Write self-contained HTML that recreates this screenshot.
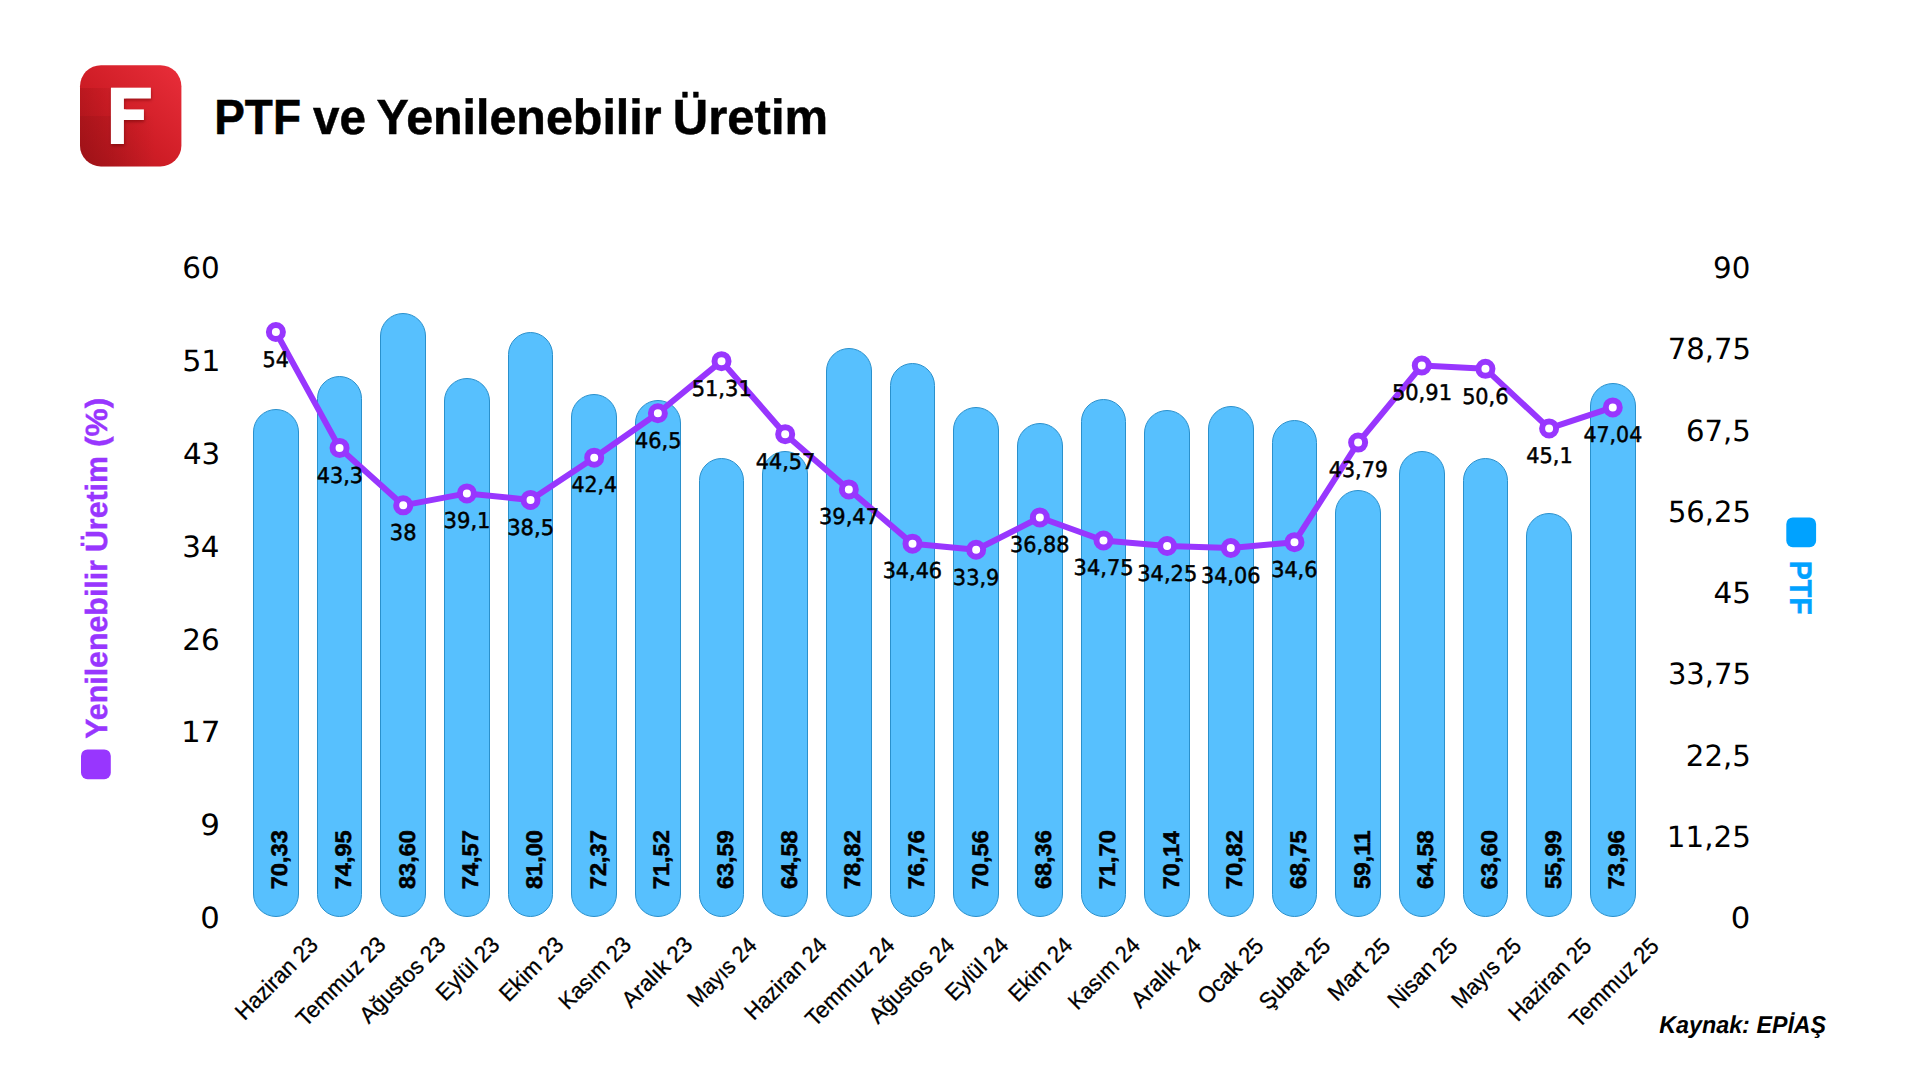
<!DOCTYPE html>
<html lang="tr"><head><meta charset="utf-8"><title>PTF ve Yenilenebilir Üretim</title>
<style>html,body{margin:0;padding:0;background:#fff;}body{width:1920px;height:1080px;overflow:hidden;font-family:"Liberation Sans",sans-serif;}svg{display:block;text-rendering:geometricPrecision;}text{white-space:pre;}</style>
</head><body>
<svg width="1920" height="1080" viewBox="0 0 1920 1080">
<defs>
<linearGradient id="lg" x1="0" y1="1" x2="1" y2="0"><stop offset="0" stop-color="#b0161d"/><stop offset="0.45" stop-color="#cf1d26"/><stop offset="1" stop-color="#e92e3a"/></linearGradient>
<linearGradient id="sa" x1="0" y1="0" x2="1" y2="0"><stop offset="0" stop-color="#600" stop-opacity="0.16"/><stop offset="1" stop-color="#600" stop-opacity="0.06"/></linearGradient>
<linearGradient id="sb" x1="0" y1="0" x2="1" y2="0"><stop offset="0" stop-color="#500" stop-opacity="0.22"/><stop offset="0.45" stop-color="#500" stop-opacity="0.14"/><stop offset="1" stop-color="#500" stop-opacity="0"/></linearGradient>
<filter id="fs" x="-20%" y="-20%" width="150%" height="150%"><feDropShadow dx="0.5" dy="2" stdDeviation="1.6" flood-color="#5a0005" flood-opacity="0.45"/></filter>
</defs>
<rect width="1920" height="1080" fill="#fff"/>
<rect x="80" y="65.2" width="101.4" height="101.2" rx="21" ry="21" fill="url(#lg)"/>
<clipPath id="lc"><rect x="80" y="65.2" width="101.4" height="101.2" rx="21" ry="21"/></clipPath>
<g clip-path="url(#lc)"><rect x="80" y="88" width="34" height="28" fill="url(#sa)"/><rect x="80" y="116" width="75" height="52" fill="url(#sb)"/></g>
<clipPath id="fc"><path d="M100 80H160V98.55H123.9V109.35H143.9V119.90H123.9V150H100Z"/></clipPath>
<g filter="url(#fs)"><g clip-path="url(#fc)"><text transform="translate(103.72,144.20) scale(1.0177,1)" font-family='"DejaVu Sans", "Liberation Sans", sans-serif' font-size="77.26" font-weight="bold" fill="#fff">F</text></g></g>
<g font-family='"Liberation Sans", sans-serif' font-size="49.28" font-weight="bold" fill="#000" stroke="#000" stroke-width="0.5">
<text transform="translate(214.21,133.75) scale(0.9331,1)">PTF </text>
<text transform="translate(313.06,133.75) scale(0.9654,1)">ve </text>
<text transform="translate(376.53,133.75) scale(0.9820,1)">Yenilenebilir </text>
<text transform="translate(672.86,133.75) scale(0.9947,1)">Üretim</text>
</g>
<g fill="#57c0fe" stroke="#2a90cc" stroke-width="1">
<rect x="253.5" y="409.5" width="45" height="507.0" rx="22.5" ry="22.5"/>
<rect x="317.5" y="376.5" width="44" height="540.0" rx="22.0" ry="22.0"/>
<rect x="380.5" y="313.5" width="45" height="603.0" rx="22.5" ry="22.5"/>
<rect x="444.5" y="378.5" width="45" height="538.0" rx="22.5" ry="22.5"/>
<rect x="508.5" y="332.5" width="44" height="584.0" rx="22.0" ry="22.0"/>
<rect x="571.5" y="394.5" width="45" height="522.0" rx="22.5" ry="22.5"/>
<rect x="635.5" y="400.5" width="45" height="516.0" rx="22.5" ry="22.5"/>
<rect x="699.5" y="458.5" width="44" height="458.0" rx="22.0" ry="22.0"/>
<rect x="762.5" y="451.5" width="45" height="465.0" rx="22.5" ry="22.5"/>
<rect x="826.5" y="348.5" width="45" height="568.0" rx="22.5" ry="22.5"/>
<rect x="890.5" y="363.5" width="44" height="553.0" rx="22.0" ry="22.0"/>
<rect x="953.5" y="407.5" width="45" height="509.0" rx="22.5" ry="22.5"/>
<rect x="1017.5" y="423.5" width="45" height="493.0" rx="22.5" ry="22.5"/>
<rect x="1081.5" y="399.5" width="44" height="517.0" rx="22.0" ry="22.0"/>
<rect x="1144.5" y="410.5" width="45" height="506.0" rx="22.5" ry="22.5"/>
<rect x="1208.5" y="406.5" width="45" height="510.0" rx="22.5" ry="22.5"/>
<rect x="1272.5" y="420.5" width="44" height="496.0" rx="22.0" ry="22.0"/>
<rect x="1335.5" y="490.5" width="45" height="426.0" rx="22.5" ry="22.5"/>
<rect x="1399.5" y="451.5" width="45" height="465.0" rx="22.5" ry="22.5"/>
<rect x="1463.5" y="458.5" width="44" height="458.0" rx="22.0" ry="22.0"/>
<rect x="1526.5" y="513.5" width="45" height="403.0" rx="22.5" ry="22.5"/>
<rect x="1590.5" y="383.5" width="45" height="533.0" rx="22.5" ry="22.5"/>
</g>
<g font-family='"Liberation Sans", sans-serif' font-weight="bold" fill="#000" stroke="#000" stroke-width="0.55">
<text transform="translate(287.40,889.24) rotate(-90) scale(1.0450,1)" font-size="22.57">70,33</text>
<text transform="translate(351.06,889.24) rotate(-90) scale(1.0407,1)" font-size="22.57">74,95</text>
<text transform="translate(414.72,889.01) rotate(-90) scale(1.0429,1)" font-size="22.57">83,60</text>
<text transform="translate(478.38,889.25) rotate(-90) scale(1.0472,1)" font-size="22.57">74,57</text>
<text transform="translate(542.04,889.01) rotate(-90) scale(1.0429,1)" font-size="22.57">81,00</text>
<text transform="translate(605.70,889.25) rotate(-90) scale(1.0472,1)" font-size="22.57">72,37</text>
<text transform="translate(669.36,889.25) rotate(-90) scale(1.0472,1)" font-size="22.57">71,52</text>
<text transform="translate(733.02,889.12) rotate(-90) scale(1.0429,1)" font-size="22.57">63,59</text>
<text transform="translate(796.68,889.12) rotate(-90) scale(1.0407,1)" font-size="22.57">64,58</text>
<text transform="translate(860.34,889.25) rotate(-90) scale(1.0472,1)" font-size="22.57">78,82</text>
<text transform="translate(924.00,889.24) rotate(-90) scale(1.0450,1)" font-size="22.57">76,76</text>
<text transform="translate(987.66,889.24) rotate(-90) scale(1.0450,1)" font-size="22.57">70,56</text>
<text transform="translate(1051.32,889.12) rotate(-90) scale(1.0429,1)" font-size="22.57">68,36</text>
<text transform="translate(1114.98,889.25) rotate(-90) scale(1.0472,1)" font-size="22.57">71,70</text>
<text transform="translate(1178.64,889.23) rotate(-90) scale(1.0323,1)" font-size="22.57">70,14</text>
<text transform="translate(1242.30,889.25) rotate(-90) scale(1.0472,1)" font-size="22.57">70,82</text>
<text transform="translate(1305.96,889.12) rotate(-90) scale(1.0386,1)" font-size="22.57">68,75</text>
<text transform="translate(1369.62,889.02) rotate(-90) scale(1.0603,1)" font-size="22.57">59,11</text>
<text transform="translate(1433.28,889.12) rotate(-90) scale(1.0407,1)" font-size="22.57">64,58</text>
<text transform="translate(1496.94,889.13) rotate(-90) scale(1.0450,1)" font-size="22.57">63,60</text>
<text transform="translate(1560.60,889.00) rotate(-90) scale(1.0407,1)" font-size="22.57">55,99</text>
<text transform="translate(1624.26,889.24) rotate(-90) scale(1.0450,1)" font-size="22.57">73,96</text>
</g>
<polyline fill="none" stroke="#9836fe" stroke-width="6" stroke-linejoin="round" stroke-linecap="round" points="275.90,332.00 339.56,447.92 403.22,505.33 466.88,493.42 530.54,499.92 594.20,457.67 657.86,413.25 721.52,361.14 785.18,434.16 848.84,489.41 912.50,543.68 976.16,549.75 1039.82,517.47 1103.48,540.54 1167.14,545.96 1230.80,548.02 1294.46,542.17 1358.12,442.61 1421.78,365.48 1485.44,368.83 1549.10,428.42 1612.76,407.40"/>
<g fill="#fff" stroke="#9836fe" stroke-width="6">
<circle cx="275.90" cy="332.00" r="7"/>
<circle cx="339.56" cy="447.92" r="7"/>
<circle cx="403.22" cy="505.33" r="7"/>
<circle cx="466.88" cy="493.42" r="7"/>
<circle cx="530.54" cy="499.92" r="7"/>
<circle cx="594.20" cy="457.67" r="7"/>
<circle cx="657.86" cy="413.25" r="7"/>
<circle cx="721.52" cy="361.14" r="7"/>
<circle cx="785.18" cy="434.16" r="7"/>
<circle cx="848.84" cy="489.41" r="7"/>
<circle cx="912.50" cy="543.68" r="7"/>
<circle cx="976.16" cy="549.75" r="7"/>
<circle cx="1039.82" cy="517.47" r="7"/>
<circle cx="1103.48" cy="540.54" r="7"/>
<circle cx="1167.14" cy="545.96" r="7"/>
<circle cx="1230.80" cy="548.02" r="7"/>
<circle cx="1294.46" cy="542.17" r="7"/>
<circle cx="1358.12" cy="442.61" r="7"/>
<circle cx="1421.78" cy="365.48" r="7"/>
<circle cx="1485.44" cy="368.83" r="7"/>
<circle cx="1549.10" cy="428.42" r="7"/>
<circle cx="1612.76" cy="407.40" r="7"/>
</g>
<text transform="translate(262.49,366.80) scale(0.9555,1)" font-family='"DejaVu Sans", "Liberation Sans", sans-serif' font-size="21.76" font-weight="normal" fill="#000" stroke="#000" stroke-width="0.5">54</text>
<text transform="translate(316.77,482.72) scale(0.9544,1)" font-family='"DejaVu Sans", "Liberation Sans", sans-serif' font-size="21.76" font-weight="normal" fill="#000" stroke="#000" stroke-width="0.5">43,3</text>
<text transform="translate(389.80,540.13) scale(0.9640,1)" font-family='"DejaVu Sans", "Liberation Sans", sans-serif' font-size="21.76" font-weight="normal" fill="#000" stroke="#000" stroke-width="0.5">38</text>
<text transform="translate(443.55,528.22) scale(0.9706,1)" font-family='"DejaVu Sans", "Liberation Sans", sans-serif' font-size="21.76" font-weight="normal" fill="#000" stroke="#000" stroke-width="0.5">39,1</text>
<text transform="translate(507.21,534.72) scale(0.9682,1)" font-family='"DejaVu Sans", "Liberation Sans", sans-serif' font-size="21.76" font-weight="normal" fill="#000" stroke="#000" stroke-width="0.5">38,5</text>
<text transform="translate(571.42,492.47) scale(0.9431,1)" font-family='"DejaVu Sans", "Liberation Sans", sans-serif' font-size="21.76" font-weight="normal" fill="#000" stroke="#000" stroke-width="0.5">42,4</text>
<text transform="translate(635.07,448.05) scale(0.9566,1)" font-family='"DejaVu Sans", "Liberation Sans", sans-serif' font-size="21.76" font-weight="normal" fill="#000" stroke="#000" stroke-width="0.5">46,5</text>
<text transform="translate(691.64,395.94) scale(0.9653,1)" font-family='"DejaVu Sans", "Liberation Sans", sans-serif' font-size="21.76" font-weight="normal" fill="#000" stroke="#000" stroke-width="0.5">51,31</text>
<text transform="translate(755.84,468.96) scale(0.9547,1)" font-family='"DejaVu Sans", "Liberation Sans", sans-serif' font-size="21.76" font-weight="normal" fill="#000" stroke="#000" stroke-width="0.5">44,57</text>
<text transform="translate(818.97,524.21) scale(0.9635,1)" font-family='"DejaVu Sans", "Liberation Sans", sans-serif' font-size="21.76" font-weight="normal" fill="#000" stroke="#000" stroke-width="0.5">39,47</text>
<text transform="translate(882.64,578.48) scale(0.9547,1)" font-family='"DejaVu Sans", "Liberation Sans", sans-serif' font-size="21.76" font-weight="normal" fill="#000" stroke="#000" stroke-width="0.5">34,46</text>
<text transform="translate(952.84,584.55) scale(0.9612,1)" font-family='"DejaVu Sans", "Liberation Sans", sans-serif' font-size="21.76" font-weight="normal" fill="#000" stroke="#000" stroke-width="0.5">33,9</text>
<text transform="translate(1009.96,552.27) scale(0.9564,1)" font-family='"DejaVu Sans", "Liberation Sans", sans-serif' font-size="21.76" font-weight="normal" fill="#000" stroke="#000" stroke-width="0.5">36,88</text>
<text transform="translate(1073.61,575.34) scale(0.9635,1)" font-family='"DejaVu Sans", "Liberation Sans", sans-serif' font-size="21.76" font-weight="normal" fill="#000" stroke="#000" stroke-width="0.5">34,75</text>
<text transform="translate(1137.27,580.76) scale(0.9635,1)" font-family='"DejaVu Sans", "Liberation Sans", sans-serif' font-size="21.76" font-weight="normal" fill="#000" stroke="#000" stroke-width="0.5">34,25</text>
<text transform="translate(1200.94,582.82) scale(0.9547,1)" font-family='"DejaVu Sans", "Liberation Sans", sans-serif' font-size="21.76" font-weight="normal" fill="#000" stroke="#000" stroke-width="0.5">34,06</text>
<text transform="translate(1271.15,576.97) scale(0.9566,1)" font-family='"DejaVu Sans", "Liberation Sans", sans-serif' font-size="21.76" font-weight="normal" fill="#000" stroke="#000" stroke-width="0.5">34,6</text>
<text transform="translate(1328.79,477.41) scale(0.9494,1)" font-family='"DejaVu Sans", "Liberation Sans", sans-serif' font-size="21.76" font-weight="normal" fill="#000" stroke="#000" stroke-width="0.5">43,79</text>
<text transform="translate(1391.90,400.28) scale(0.9653,1)" font-family='"DejaVu Sans", "Liberation Sans", sans-serif' font-size="21.76" font-weight="normal" fill="#000" stroke="#000" stroke-width="0.5">50,91</text>
<text transform="translate(1462.13,403.63) scale(0.9566,1)" font-family='"DejaVu Sans", "Liberation Sans", sans-serif' font-size="21.76" font-weight="normal" fill="#000" stroke="#000" stroke-width="0.5">50,6</text>
<text transform="translate(1526.31,463.22) scale(0.9589,1)" font-family='"DejaVu Sans", "Liberation Sans", sans-serif' font-size="21.76" font-weight="normal" fill="#000" stroke="#000" stroke-width="0.5">45,1</text>
<text transform="translate(1583.43,442.20) scale(0.9443,1)" font-family='"DejaVu Sans", "Liberation Sans", sans-serif' font-size="21.76" font-weight="normal" fill="#000" stroke="#000" stroke-width="0.5">47,04</text>
<text transform="translate(200.30,928.10) scale(1.0515,1)" font-family='"DejaVu Sans", "Liberation Sans", sans-serif' font-size="29.19" font-weight="normal" fill="#000" >0</text>
<text transform="translate(200.29,835.24) scale(1.0620,1)" font-family='"DejaVu Sans", "Liberation Sans", sans-serif' font-size="29.19" font-weight="normal" fill="#000" >9</text>
<text transform="translate(180.98,742.39) scale(1.0644,1)" font-family='"DejaVu Sans", "Liberation Sans", sans-serif' font-size="29.19" font-weight="normal" fill="#000" >17</text>
<text transform="translate(182.19,649.53) scale(1.0082,1)" font-family='"DejaVu Sans", "Liberation Sans", sans-serif' font-size="29.19" font-weight="normal" fill="#000" >26</text>
<text transform="translate(182.20,556.67) scale(1.0037,1)" font-family='"DejaVu Sans", "Liberation Sans", sans-serif' font-size="29.19" font-weight="normal" fill="#000" >34</text>
<text transform="translate(182.94,463.81) scale(1.0037,1)" font-family='"DejaVu Sans", "Liberation Sans", sans-serif' font-size="29.19" font-weight="normal" fill="#000" >43</text>
<text transform="translate(182.13,370.96) scale(1.0355,1)" font-family='"DejaVu Sans", "Liberation Sans", sans-serif' font-size="29.19" font-weight="normal" fill="#000" >51</text>
<text transform="translate(182.34,278.10) scale(1.0082,1)" font-family='"DejaVu Sans", "Liberation Sans", sans-serif' font-size="29.19" font-weight="normal" fill="#000" >60</text>
<text transform="translate(1730.80,928.10) scale(1.0515,1)" font-family='"DejaVu Sans", "Liberation Sans", sans-serif' font-size="29.19" font-weight="normal" fill="#000" >0</text>
<text transform="translate(1666.87,846.85) scale(1.0053,1)" font-family='"DejaVu Sans", "Liberation Sans", sans-serif' font-size="29.19" font-weight="normal" fill="#000" >11,25</text>
<text transform="translate(1685.81,765.60) scale(1.0004,1)" font-family='"DejaVu Sans", "Liberation Sans", sans-serif' font-size="29.19" font-weight="normal" fill="#000" >22,5</text>
<text transform="translate(1667.93,684.35) scale(0.9922,1)" font-family='"DejaVu Sans", "Liberation Sans", sans-serif' font-size="29.19" font-weight="normal" fill="#000" >33,75</text>
<text transform="translate(1713.43,603.10) scale(1.0082,1)" font-family='"DejaVu Sans", "Liberation Sans", sans-serif' font-size="29.19" font-weight="normal" fill="#000" >45</text>
<text transform="translate(1667.93,521.85) scale(0.9922,1)" font-family='"DejaVu Sans", "Liberation Sans", sans-serif' font-size="29.19" font-weight="normal" fill="#000" >56,25</text>
<text transform="translate(1685.96,440.60) scale(0.9980,1)" font-family='"DejaVu Sans", "Liberation Sans", sans-serif' font-size="29.19" font-weight="normal" fill="#000" >67,5</text>
<text transform="translate(1667.78,359.35) scale(0.9941,1)" font-family='"DejaVu Sans", "Liberation Sans", sans-serif' font-size="29.19" font-weight="normal" fill="#000" >78,75</text>
<text transform="translate(1713.00,278.10) scale(1.0037,1)" font-family='"DejaVu Sans", "Liberation Sans", sans-serif' font-size="29.19" font-weight="normal" fill="#000" >90</text>
<g font-family='"Liberation Sans", sans-serif' font-size="23.00" fill="#000" stroke="#000" stroke-width="0.3">
<text transform="translate(244.58,1021.21) rotate(-45) scale(0.9523,1)">Haziran 23</text>
<text transform="translate(305.47,1027.68) rotate(-45) scale(0.9690,1)">Temmuz 23</text>
<text transform="translate(368.66,1024.55) rotate(-45) scale(0.9623,1)">Ağustos 23</text>
<text transform="translate(445.20,1001.92) rotate(-45) scale(0.9620,1)">Eylül 23</text>
<text transform="translate(508.41,1002.82) rotate(-45) scale(0.9627,1)">Ekim 23</text>
<text transform="translate(568.10,1010.79) rotate(-45) scale(0.9378,1)">Kasım 23</text>
<text transform="translate(631.03,1009.02) rotate(-45) scale(0.9780,1)">Aralık 23</text>
<text transform="translate(696.78,1008.24) rotate(-45) scale(0.9307,1)">Mayıs 24</text>
<text transform="translate(753.87,1021.36) rotate(-45) scale(0.9479,1)">Haziran 24</text>
<text transform="translate(814.75,1027.84) rotate(-45) scale(0.9649,1)">Temmuz 24</text>
<text transform="translate(877.96,1024.68) rotate(-45) scale(0.9578,1)">Ağustos 24</text>
<text transform="translate(954.49,1002.07) rotate(-45) scale(0.9559,1)">Eylül 24</text>
<text transform="translate(1017.70,1002.97) rotate(-45) scale(0.9567,1)">Ekim 24</text>
<text transform="translate(1077.39,1010.94) rotate(-45) scale(0.9327,1)">Kasım 24</text>
<text transform="translate(1140.33,1009.15) rotate(-45) scale(0.9723,1)">Aralık 24</text>
<text transform="translate(1206.75,1005.79) rotate(-45) scale(0.9624,1)">Ocak 25</text>
<text transform="translate(1268.13,1011.03) rotate(-45) scale(0.9770,1)">Şubat 25</text>
<text transform="translate(1336.95,1002.23) rotate(-45) scale(0.9936,1)">Mart 25</text>
<text transform="translate(1396.99,1009.48) rotate(-45) scale(0.9662,1)">Nisan 25</text>
<text transform="translate(1460.69,1009.43) rotate(-45) scale(0.9387,1)">Mayıs 25</text>
<text transform="translate(1517.78,1022.56) rotate(-45) scale(0.9545,1)">Haziran 25</text>
<text transform="translate(1578.67,1029.04) rotate(-45) scale(0.9710,1)">Temmuz 25</text>
</g>
<rect x="81" y="749.4" width="29.8" height="29.8" rx="6.5" ry="6.5" fill="#9836fe"/>
<g font-family='"Liberation Sans", sans-serif' font-size="30.72" font-weight="bold" fill="#9836fe" stroke="#9836fe" stroke-width="0.4">
<text transform="translate(107.00,738.71) rotate(-90) scale(0.9873,1)">Yenilenebilir </text>
<text transform="translate(107.00,552.02) rotate(-90) scale(0.9860,1)">Üretim </text>
<text transform="translate(107.00,446.98) rotate(-90) scale(1.0312,1)">(%)</text>
</g>
<rect x="1786.3" y="517.4" width="29.8" height="29.8" rx="6.5" ry="6.5" fill="#00a2ff"/>
<text transform="translate(1789.6,560.64) rotate(90) scale(0.9241,1)" font-family='"Liberation Sans", sans-serif' font-size="31.01" font-weight="bold" fill="#00a2ff" stroke="#00a2ff" stroke-width="0.5">PTF</text>
<g font-family='"Liberation Sans", sans-serif' font-size="24.35" font-weight="bold" font-style="italic" fill="#000" >
<text transform="translate(1659.13,1032.90) scale(0.9580,1)">Kaynak: </text>
<text transform="translate(1756.44,1032.90) scale(0.9528,1)">EPİAŞ</text>
</g>
</svg>
</body></html>
